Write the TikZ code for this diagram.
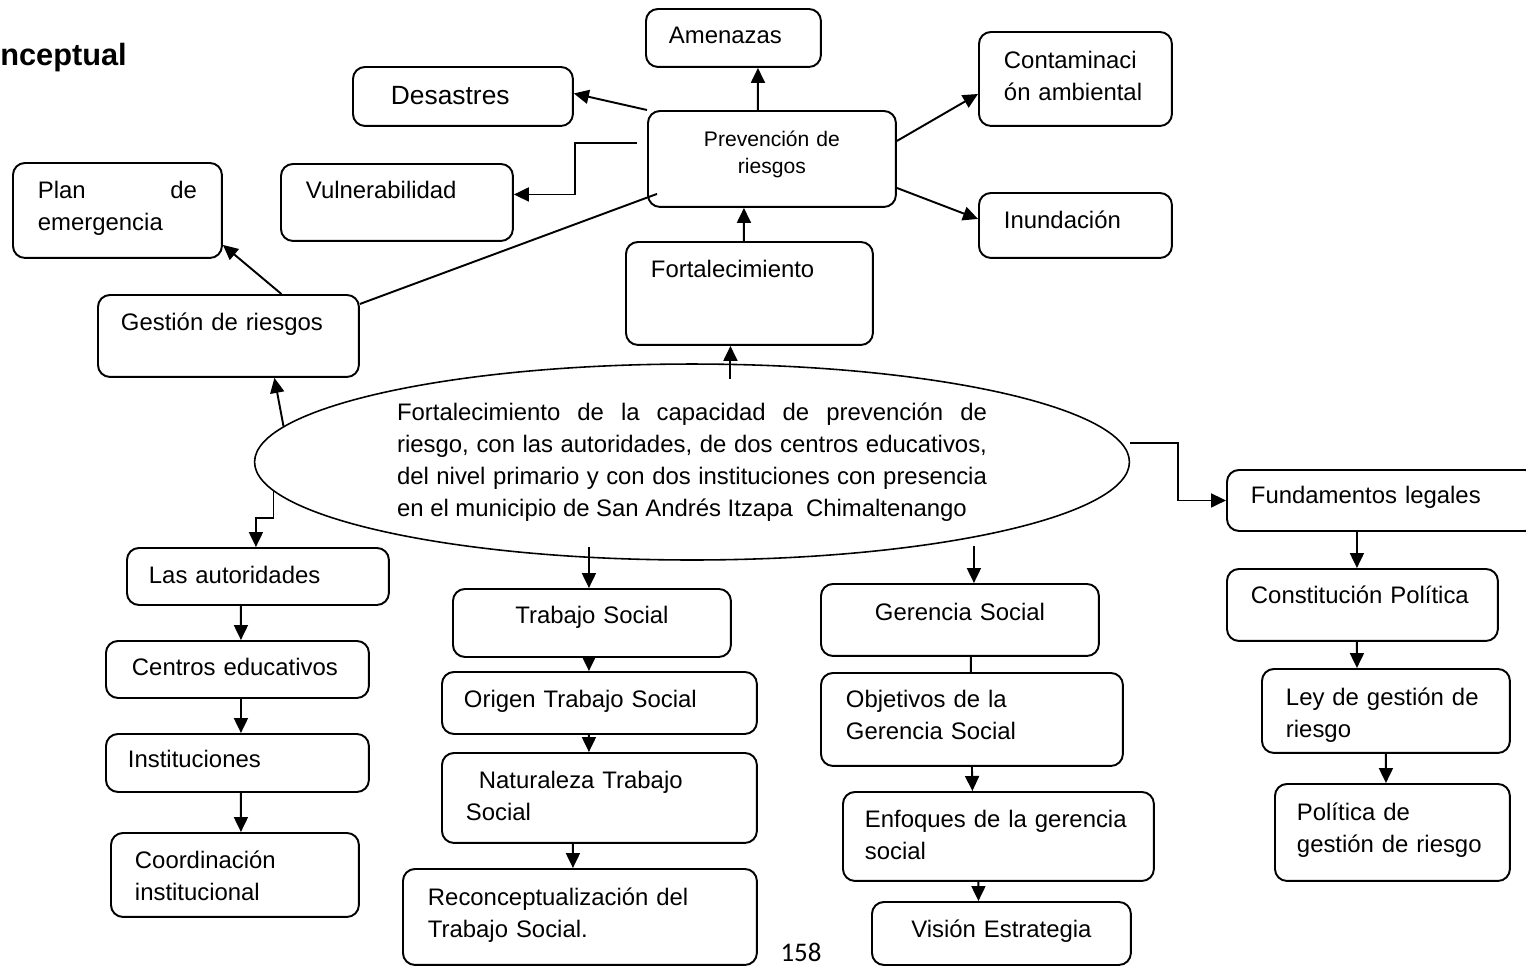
\documentclass[tikz,border=0pt]{standalone}
\usepackage{fontspec}
\setmainfont{Liberation Sans}
\newfontfamily\pagefont{Carlito}
\usetikzlibrary{arrows.meta, shapes.geometric}
\hyphenpenalty=10000
\tolerance=10000

\begin{document}
\begin{tikzpicture}[x=0.02cm, y=-0.02cm,
        box/.style={draw, line width=1.1pt, rounded corners=0.24cm, anchor=north west,
                    inner ysep=0pt, align=left, font=\fontsize{13.6}{18.2}\selectfont},
        tb/.style n args={4}{text width=#1cm, inner xsep=#2cm, text height=#3cm, text depth=#4cm},
        arr/.style={-{Triangle[length=0.3cm, width=0.28cm]}, line width=1.1pt},
        link/.style={line width=1.1pt}]
                        \useasboundingbox (0,0) rectangle (1526,965);

                        % Title:
                        \node[anchor=base west, inner sep=0pt, font=\bfseries\fontsize{17.5}{20}\selectfont] (title) at (0,65) {nceptual};

                        % Top:
                        \node[box, tb={2.58}{0.46}{0.70}{0.46}] (amen) at (645,8) {Amenazas};
                        \node[box, tb={2.88}{0.76}{0.76}{0.42}, font=\fontsize{15}{18}\selectfont] (desas) at (352,66) {Desastres};
                        \node[box, tb={2.86}{0.50}{0.74}{1.14}] (conta) at (978,31) {Contaminaci\\ón ambiental};
                        \node[box, tb={4.16}{0.40}{0.72}{1.20}, align=center, font=\fontsize{12}{15.3}\selectfont] (prev) at (647,110) {Prevención de\\riesgos};
                        \node[box, tb={3.64}{0.50}{0.70}{0.84}] (vuln) at (280,163) {Vulnerabilidad};
                        \node[box, tb={3.18}{0.50}{0.72}{1.18}, align=justify] (plan) at (12,162) {Plan de emergencia};
                        \node[box, tb={2.86}{0.50}{0.72}{0.58}] (inund) at (978,192) {Inundación};
                        \node[box, tb={3.94}{0.50}{0.72}{1.34}] (fort) at (625,241) {Fortalecimiento};
                        \node[box, tb={4.30}{0.46}{0.72}{0.92}] (gest) at (97,294) {Gestión de riesgos};

                        % Ellipse:
                        \node[ellipse, draw, line width=0.9pt, inner sep=0pt, minimum width=17.5cm, minimum height=3.92cm,
                              text width=11.8cm, align=justify, font=\fontsize{13.6}{18.2}\selectfont] (goal) at (692,462)
                              {Fortalecimiento de la capacidad de prevención de riesgo, con las autoridades, de dos centros educativos, del nivel primario y con dos instituciones con presencia en el municipio de San Andrés Itzapa\ \ Chimaltenango};

                        % Columns:
                        \node[box, tb={4.36}{0.44}{0.72}{0.42}] (auth) at (126,547) {Las autoridades};
                        \node[box, tb={4.22}{0.52}{0.70}{0.44}] (cent) at (105,640) {Centros educativos};
                        \node[box, tb={4.38}{0.44}{0.68}{0.48}] (inst) at (105,733) {Instituciones};
                        \node[box, tb={4.00}{0.48}{0.72}{0.96}] (coord) at (110,832) {Coordinación\\institucional};

                        \node[box, tb={4.76}{0.40}{0.70}{0.66}, align=center] (trab) at (452,588) {Trabajo Social};
                        \node[box, tb={5.42}{0.44}{0.72}{0.52}] (orig) at (441,671) {Origen Trabajo Social};
                        \node[box, tb={5.34}{0.48}{0.72}{1.08}] (natu) at (441,752) {\hspace*{0.26cm}Naturaleza Trabajo\\Social};
                        \node[box, tb={6.08}{0.50}{0.74}{1.18}] (reco) at (402,868) {Reconceptualización del\\Trabajo Social.};

                        \node[box, tb={4.76}{0.40}{0.74}{0.70}, align=center] (gere) at (820,583) {Gerencia Social};
                        \node[box, tb={5.04}{0.50}{0.70}{1.16}] (obje) at (820,672) {Objetivos de la\\Gerencia Social};
                        \node[box, tb={5.34}{0.44}{0.72}{1.06}] (enfo) at (842,791) {Enfoques de la gerencia\\social};
                        \node[box, tb={4.38}{0.40}{0.72}{0.54}, align=center] (visi) at (871,901) {Visión Estrategia};

                        \node[box, tb={5.24}{0.48}{0.68}{0.54}] (fund) at (1226,469) {Fundamentos legales};
                        \node[box, tb={4.46}{0.48}{0.70}{0.74}] (cons) at (1226,568) {Constitución Política};
                        \node[box, tb={4.00}{0.48}{0.74}{0.94}] (ley) at (1261,668) {Ley de gestión de\\riesgo};
                        \node[box, tb={3.82}{0.44}{0.74}{1.20}] (poli) at (1274,783) {Política de\\gestión de riesgo};

                        \node[anchor=base, inner sep=0pt, font=\pagefont\fontsize{15.3}{18}\selectfont] (pagenum) at (801,961) {158};

                        % Arrows around the top box:
                        \draw[arr] ([xshift=-0.28cm]prev.north) -- ([xshift=0.49cm]amen.south);
                        \draw[arr] (prev.north west) -- ([yshift=0.06cm]desas.east);
                        \draw[arr] ([xshift=-0.2cm, yshift=0.32cm]prev.west) -- ++(-1.24cm,0) |- ([yshift=0.16cm]vuln.east);
                        \draw[link] ([xshift=0.2cm, yshift=0.28cm]prev.south west) -- ([yshift=0.64cm]gest.east);
                        \draw[arr] ([xshift=1.06cm]gest.north) -- ([yshift=0.28cm]plan.south east);
                        \draw[arr] ([yshift=0.36cm]prev.east) -- ([yshift=-0.3cm]conta.west);
                        \draw[arr] ([yshift=-0.58cm]prev.east) -- ([yshift=0.13cm]inund.west);
                        \draw[arr] ([xshift=-0.11cm]fort.north) -- ([xshift=-0.56cm]prev.south);

                        % Arrows out of the ellipse:
                        \draw[arr] ([xshift=-0.38cm, yshift=-0.66cm]fort.south) -- ([xshift=-0.38cm]fort.south);
                        \draw[arr] (goal.175) -- ([xshift=0.92cm]gest.south);
                        \draw[arr] (goal.184) -- ++(0,-0.54cm) -| ([xshift=-0.04cm]auth.north);
                        \draw[arr] ([xshift=-0.06cm, yshift=0.82cm]trab.north) -- ([xshift=-0.06cm]trab.north);
                        \draw[arr] ([xshift=0.28cm, yshift=0.74cm]gere.north) -- ([xshift=0.28cm]gere.north);
                        \draw[arr] ([yshift=0.38cm]goal.east) -- ++(0.96cm,0) |- (fund.west);

                        % Down the columns:
                        \draw[arr] ([xshift=-0.34cm]auth.south) -- ([xshift=0.07cm]cent.north);
                        \draw[arr] ([xshift=0.07cm]cent.south) -- ([xshift=0.07cm]inst.north);
                        \draw[arr] ([xshift=0.07cm]inst.south) -- ([xshift=0.12cm]coord.north);
                        \draw[arr] ([xshift=-0.06cm]trab.south) -- ([xshift=-0.21cm]orig.north);
                        \draw[arr] ([xshift=-0.21cm]orig.south) -- ([xshift=-0.21cm]natu.north);
                        \draw[arr] ([xshift=-0.53cm]natu.south) -- ([xshift=-0.14cm]reco.north);
                        \draw[link] ([xshift=0.22cm]gere.south) -- ([xshift=-0.02cm]obje.north);
                        \draw[arr] (obje.south) -- ([xshift=-0.52cm]enfo.north);
                        \draw[arr] ([xshift=-0.4cm]enfo.south) -- ([xshift=-0.46cm]visi.north);
                        \draw[arr] ([xshift=-0.5cm]fund.south) -- ([xshift=-0.11cm]cons.north);
                        \draw[arr] ([xshift=-0.11cm]cons.south) -- ([xshift=-0.58cm]ley.north);
                        \draw[arr] (ley.south) -- ([xshift=-0.13cm]poli.north);
                    \end{tikzpicture}
\end{document}
